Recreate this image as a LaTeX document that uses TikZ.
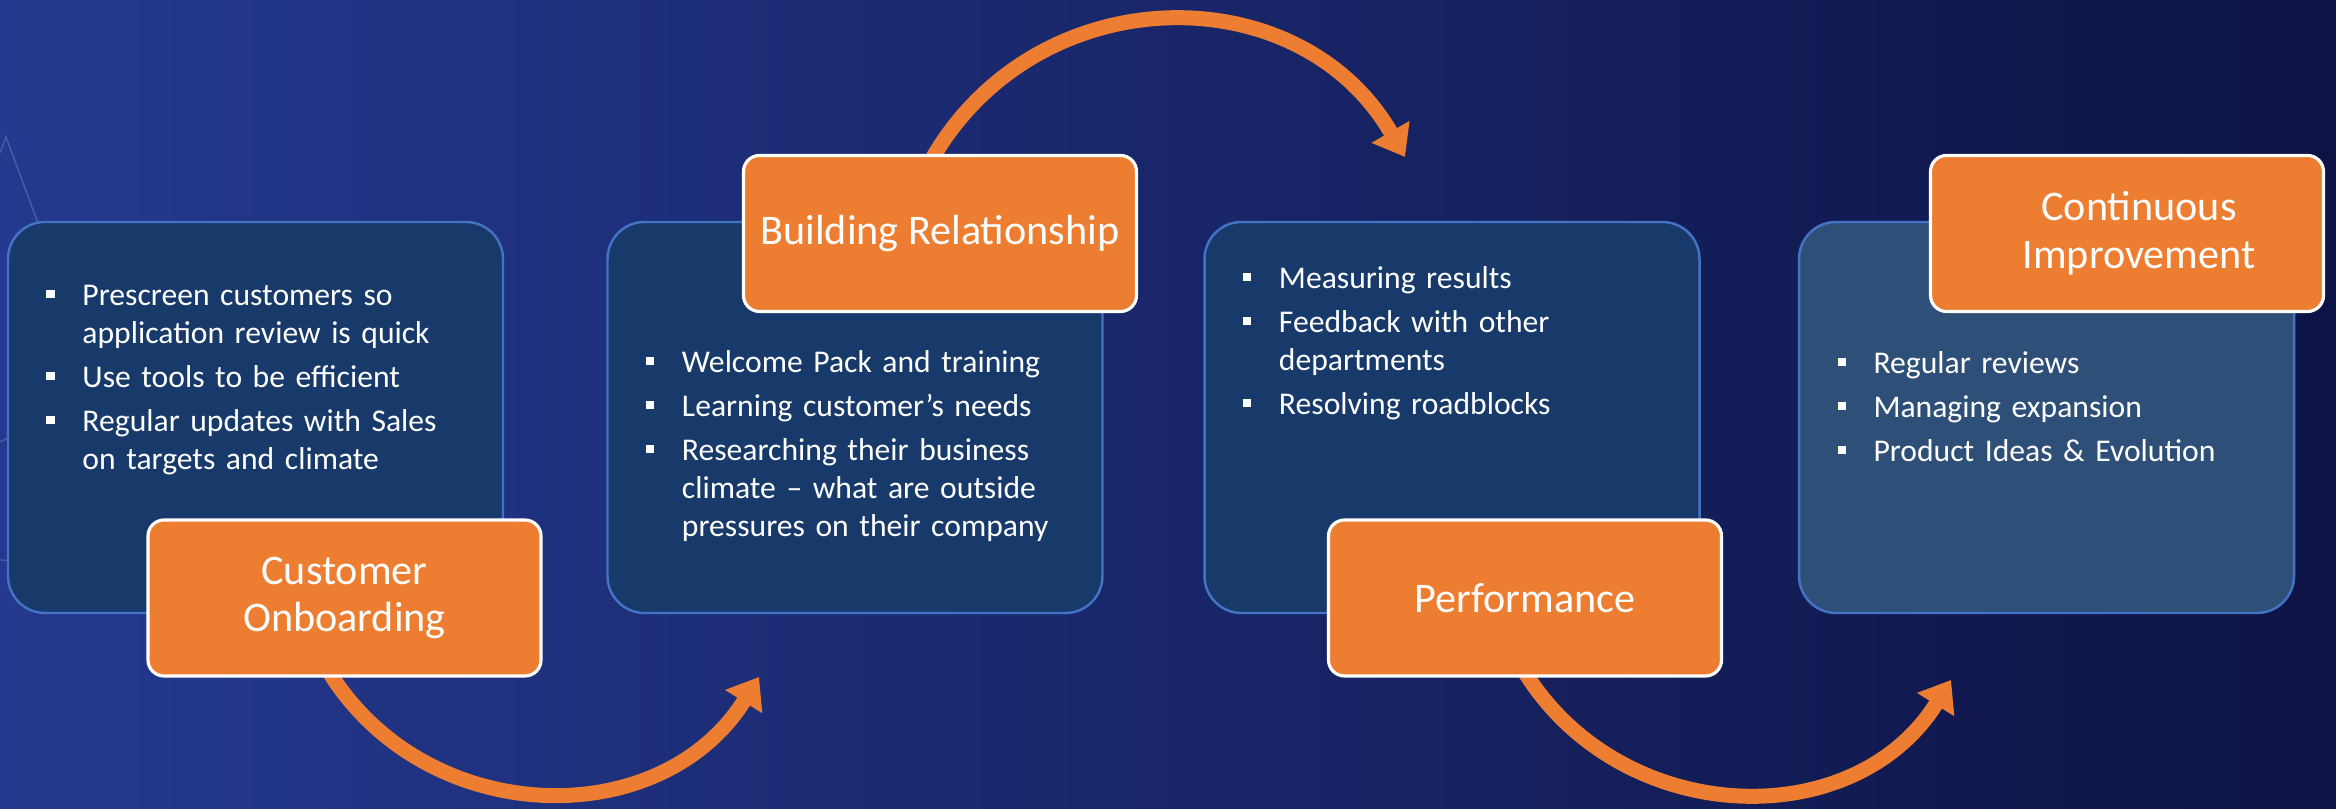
\documentclass[tikz,border=0pt]{standalone}
\usepackage{fontspec}
\setmainfont{Carlito}
\usepackage{enumitem}
\usetikzlibrary{arrows.meta, positioning}
\definecolor{bgLight}{HTML}{24398F}
\definecolor{bgMid}{HTML}{17226A}
\definecolor{bgDark}{HTML}{0D1344}
\definecolor{panelBlue}{HTML}{173A6B}
\definecolor{panelSteel}{HTML}{2E5078}
\definecolor{panelEdge}{HTML}{4472C4}
\definecolor{tagOrange}{HTML}{ED7D31}

\pgfdeclarelayer{backdrop}
\pgfdeclarelayer{links}
\pgfsetlayers{backdrop,links,main}

\newcommand{\sqbullet}{\raisebox{0.07cm}{\rule{0.085cm}{0.085cm}}}
\setlist[itemize]{label=\sqbullet, leftmargin=0.36cm, labelwidth=0.085cm,
  labelsep=0.275cm, align=left, topsep=0pt, partopsep=0pt, parsep=0pt, itemsep=1.7pt}

\begin{document}
\begin{tikzpicture}[
  panel/.style={
    rectangle, rounded corners=0.37cm, draw=panelEdge, fill=#1,
    line width=0.7pt, minimum width=4.95cm, minimum height=3.91cm,
  },
  tag/.style={
    rectangle, rounded corners=0.16cm, draw=white, fill=tagOrange,
    line width=0.9pt, minimum width=3.93cm, minimum height=1.56cm,
    inner sep=0pt, text=white, align=center,
    font=\fontsize{12}{13.5}\selectfont,
  },
  bullets/.style={
    text=white, text width=4.3cm, inner sep=0pt, align=left,
    font=\fontsize{9}{10.8}\selectfont,
  },
  flow/.style={-{Triangle[length=0.29cm, width=0.42cm]}, draw=tagOrange, line width=0.15cm},
  decor/.style={draw=white, opacity=0.18, line width=0.4pt},
]
\useasboundingbox (0,0) rectangle (23.36,8.09);
\begin{pgfonlayer}{backdrop}
\shade[left color=bgLight, middle color=bgMid, right color=bgDark] (0,0) rectangle (23.36,8.09);
% faint background lines
\draw[decor] (0,6.56) -- (0.06,6.72) -- (1.00,4.19) -- (0,3.67);
\draw[decor] (1.00,4.19) -- (1.57,2.92);
\draw[decor] (0,2.49) -- (2.0,2.37);
\end{pgfonlayer}

% stage panels
\node[panel=panelBlue]  (info1) at (2.555,3.915) {};
\node[panel=panelBlue]  (info2) at (8.55,3.915) {};
\node[panel=panelBlue]  (info3) at (14.52,3.915) {};
\node[panel=panelSteel] (info4) at (20.465,3.915) {};

% bullet lists
\node[bullets, below right=0.46cm and 0.39cm of info1.north west] (list1) {
  \begin{itemize}
    \item Prescreen customers so\\application review is quick
    \item Use tools to be efficient
    \item Regular updates with Sales\\on targets and climate
  \end{itemize}};
\node[bullets, below right=1.13cm and 0.39cm of info2.north west] (list2) {
  \begin{itemize}
    \item Welcome Pack and training
    \item Learning customer’s needs
    \item Researching their business\\climate – what are outside\\pressures on their company
  \end{itemize}};
\node[bullets, below right=0.29cm and 0.39cm of info3.north west] (list3) {
  \begin{itemize}
    \item Measuring results
    \item Feedback with other\\departments
    \item Resolving roadblocks
  \end{itemize}};
\node[bullets, below right=1.14cm and 0.39cm of info4.north west] (list4) {
  \begin{itemize}
    \item Regular reviews
    \item Managing expansion
    \item Product Ideas \& Evolution
  \end{itemize}};

% stage titles
\node[tag] (tag1) at (3.445,2.11) {Customer\\Onboarding};
\node[tag] (tag2) at (9.40,5.755) {Building Relationship};
\node[tag] (tag3) at (15.25,2.11) {Performance};
\node[tag] (tag4) at (21.27,5.755) {\hspace*{0.24cm}Continuous\\\hspace*{0.24cm}Improvement};

% arrow tips
\coordinate (tipA) at (7.59,1.32);
\coordinate (tipB) at (14.05,6.52);
\coordinate (tipC) at (19.51,1.29);

% curved arrows between stages, tucked under the titles
\begin{pgfonlayer}{links}
\draw[flow] ([xshift=-0.15cm,yshift=0.05cm]tag1.south) to[out=-58, in=-122, looseness=1.1] (tipA);
\draw[flow] ([xshift=-0.08cm,yshift=-0.05cm]tag2.north) to[out=60, in=120, looseness=1.14] (tipB);
\draw[flow] ([yshift=0.05cm]tag3.south) to[out=-58, in=-122, looseness=1.1] (tipC);
\end{pgfonlayer}
\end{tikzpicture}
\end{document}
